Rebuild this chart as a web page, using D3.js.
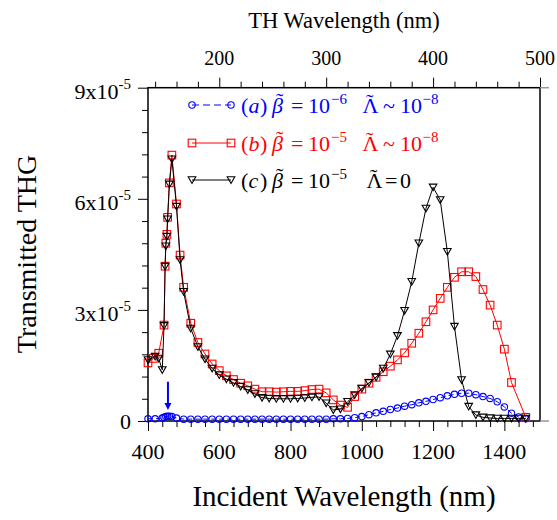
<!DOCTYPE html>
<html>
<head>
<meta charset="utf-8">
<script src="https://cdn.jsdelivr.net/npm/d3@7"></script>
<style>
  body { margin: 0; background: #fff; }
  svg { display: block; font-family: "Liberation Serif", "Times New Roman", serif; }
</style>
</head>
<body>
<svg id="chart" width="557" height="520"></svg>
<script>
// values in units of 1e-5
const wlA = [400, 420, 440, 445, 450, 455, 460, 467, 480,
  500, 520, 540, 560, 580, 600, 620, 640, 660, 680, 700, 720, 740, 760, 780, 800, 820, 840, 860, 880,
  900, 920, 940, 960, 980, 1000, 1020, 1040, 1060, 1080, 1100, 1120, 1140, 1160, 1180, 1200, 1220, 1240,
  1260, 1280, 1300, 1320, 1340, 1360, 1380, 1400, 1420, 1440, 1460];
const valA = [0.06, 0.06, 0.08, 0.1, 0.12, 0.13, 0.13, 0.12, 0.08,
  0.05, 0.05, 0.05, 0.05, 0.05, 0.05, 0.05, 0.05, 0.05, 0.05, 0.05, 0.05, 0.05, 0.05, 0.05, 0.05, 0.05, 0.05, 0.05, 0.05,
  0.05, 0.06, 0.06, 0.07, 0.09, 0.12, 0.17, 0.22, 0.26, 0.31, 0.35, 0.4, 0.44, 0.49, 0.53, 0.58, 0.63, 0.68,
  0.72, 0.75, 0.75, 0.71, 0.66, 0.61, 0.52, 0.38, 0.21, 0.11, 0.06];

const wlB = [400, 415, 430, 445, 448, 450, 453, 455, 460, 467, 480, 490, 500,
  520, 540, 560, 580, 600, 620, 640, 660, 680, 700,
  720, 740, 760, 780, 800, 820, 840, 860, 880,
  900, 920, 940, 960, 980, 1000, 1020, 1040, 1060, 1080, 1100, 1120, 1140, 1160, 1180, 1200,
  1220, 1240, 1260, 1280, 1300, 1320, 1340, 1360, 1380, 1400, 1420, 1460];
const valB = [1.57, 1.69, 1.83, 2.59, 4.18, 4.8, 5.04, 5.5, 6.43, 7.18, 5.86, 4.48, 3.61,
  2.64, 2.12, 1.81, 1.54, 1.36, 1.22, 1.12, 1.02, 0.95, 0.86,
  0.79, 0.79, 0.78, 0.79, 0.8, 0.8, 0.82, 0.85, 0.86,
  0.76, 0.57, 0.43, 0.37, 0.66, 0.86, 1.02, 1.18, 1.33, 1.48, 1.65, 1.84, 2.1, 2.37, 2.68, 3.0,
  3.31, 3.61, 3.88, 4.03, 4.03, 3.9, 3.55, 3.13, 2.59, 1.94, 1.04, 0.1];

const wlC = [400, 420, 430, 440, 445, 448, 450, 453, 455, 460, 467, 480, 490, 500,
  520, 540, 560, 580, 600, 620, 640, 660, 680, 700,
  720, 740, 760, 780, 800, 820, 840, 860, 880,
  900, 920, 940, 960, 980, 1000, 1020, 1040, 1060, 1080, 1100, 1120, 1140, 1160, 1180, 1200,
  1220, 1240, 1260, 1280, 1300, 1320, 1340, 1360, 1380, 1400, 1420, 1440, 1460];
const valC = [1.65, 1.74, 1.69, 1.38, 2.57, 4.17, 4.72, 4.98, 5.45, 6.39, 7.07, 5.79, 4.35, 3.49,
  2.5, 2.0, 1.67, 1.42, 1.24, 1.13, 1.03, 0.93, 0.84, 0.73,
  0.63, 0.61, 0.6, 0.6, 0.6, 0.61, 0.62, 0.64, 0.65,
  0.48, 0.3, 0.32, 0.52, 0.7, 0.88, 1.03, 1.18, 1.42, 1.8, 2.3, 2.98, 3.76, 4.8, 5.74, 6.31,
  5.97, 4.57, 2.55, 1.11, 0.39, 0.16, 0.1, 0.08, 0.07, 0.07, 0.07, 0.07, 0.07];

const xTicks = [400, 600, 800, 1000, 1200, 1400];
const topTicks = [200, 300, 400, 500];
const yTicks = [0, 3, 6, 9];
const yTickLabels = ["0", "3x10", "6x10", "9x10"];

// arrow marking the pump wavelength (nm, from value, to value)
const arrowWl = 456, arrowFrom = 1.06, arrowTo = 0.3;

const svg = d3.select("#chart");

const x = d3.scaleLinear().domain([400, 1500]).range([148, 540]);
const xTop = d3.scaleLinear().domain([400 / 3, 500]).range([148, 540]);
const y = d3.scaleLinear().domain([0, 9]).range([421, 87.7]);

// ticks
function tickAxis(axis, transform) {
    const g = svg.append("g").attr("transform", transform).call(axis);
    g.select(".domain").remove();
    g.selectAll("line").attr("stroke", "#000").attr("stroke-width", 1);
    return g;
}

const xMinor = d3.range(440, 1500, 40).filter(d => d % 200 !== 0);
tickAxis(d3.axisBottom(x).tickValues(xTicks).tickSize(10).tickFormat(""), "translate(0,421)");
tickAxis(d3.axisBottom(x).tickValues(xMinor).tickSize(6).tickFormat(""), "translate(0,421)");

const topMinor = d3.range(140, 500, 20).filter(d => d % 100 !== 0);
tickAxis(d3.axisTop(xTop).tickValues(topTicks).tickSize(10).tickFormat(""), "translate(0,87.7)");
tickAxis(d3.axisTop(xTop).tickValues(topMinor).tickSize(6).tickFormat(""), "translate(0,87.7)");

const yMinor = d3.range(0.6, 9, 0.6).filter(d => Math.abs(d / 3 - Math.round(d / 3)) > 0.01);
tickAxis(d3.axisLeft(y).tickValues(yTicks).tickSize(10).tickFormat(""), "translate(148,0)");
tickAxis(d3.axisLeft(y).tickValues(yMinor).tickSize(6).tickFormat(""), "translate(148,0)");

// frame
svg.append("rect")
    .attr("x", 148).attr("y", 87.7)
    .attr("width", 392).attr("height", 421 - 87.7)
    .attr("fill", "none").attr("stroke", "#000").attr("stroke-width", 1.5);
svg.append("line").attr("x1", 540).attr("x2", 549).attr("y1", 87.7).attr("y2", 87.7)
    .attr("stroke", "#999").attr("stroke-width", 1.5);
svg.append("line").attr("x1", 540).attr("x2", 549).attr("y1", 421).attr("y2", 421)
    .attr("stroke", "#999").attr("stroke-width", 1.5);

// tick labels
svg.append("g").selectAll("text").data(xTicks).enter().append("text")
    .attr("x", d => x(d)).attr("y", 459)
    .attr("text-anchor", "middle").attr("font-size", 22)
    .text(d => d);

svg.append("g").selectAll("text").data(topTicks).enter().append("text")
    .attr("x", d => xTop(d)).attr("y", 65)
    .attr("text-anchor", "middle").attr("font-size", 20)
    .text(d => d);

const yLab = svg.append("g").selectAll("text").data(yTicks).enter().append("text")
    .attr("x", 131)
    .attr("y", d => y(d) + (d === 0 ? 7.5 : 11))
    .attr("text-anchor", "end").attr("font-size", 22);
yLab.append("tspan").text((d, i) => yTickLabels[i]);
yLab.filter(d => d !== 0).append("tspan")
    .attr("dy", -10).attr("font-size", 15).text("-5");

// axis titles
svg.append("text").attr("x", 344).attr("y", 506)
    .attr("text-anchor", "middle").attr("font-size", 29)
    .text("Incident Wavelength (nm)");
svg.append("text").attr("x", 344).attr("y", 28)
    .attr("text-anchor", "middle").attr("font-size", 22.5)
    .text("TH Wavelength (nm)");
svg.append("text")
    .attr("transform", "translate(36,254) rotate(-90)")
    .attr("text-anchor", "middle").attr("font-size", 28)
    .text("Transmitted THG");

// series
const line = d3.line().x(d => x(d[0])).y(d => y(d[1]));
const triPath = "M-3.8,-3.2L3.8,-3.2L0,3.4Z";

function drawSeries(wl, val, color, shape, dash) {
    const pts = wl.map((w, i) => [w, val[i]]);
    const g = svg.append("g");
    g.append("path").datum(pts).attr("d", line)
        .attr("fill", "none").attr("stroke", color).attr("stroke-width", 1)
        .attr("stroke-dasharray", dash || null);
    const m = g.selectAll("g.pt").data(pts).enter().append("g")
        .attr("transform", d => `translate(${x(d[0])},${y(d[1])})`);
    addMarker(m, color, shape);
}

function addMarker(sel, color, shape) {
    if (shape === "circle") {
        sel.append("circle").attr("r", 3.2)
            .attr("fill", "none").attr("stroke", color).attr("stroke-width", 1.1);
    } else if (shape === "square") {
        sel.append("rect").attr("x", -3.8).attr("y", -3.8).attr("width", 7.6).attr("height", 7.6)
            .attr("fill", "none").attr("stroke", color).attr("stroke-width", 1.1);
    } else {
        sel.append("path").attr("d", triPath)
            .attr("fill", "none").attr("stroke", color).attr("stroke-width", 1.1);
    }
}

drawSeries(wlA, valA, "#0000ff", "circle", "5,3");
drawSeries(wlB, valB, "#ff0000", "square");
drawSeries(wlC, valC, "#000000", "triangle");

// arrow
const ax = x(arrowWl);
svg.append("line").attr("x1", ax).attr("x2", ax)
    .attr("y1", y(arrowFrom)).attr("y2", y(arrowTo) - 4)
    .attr("stroke", "#0000ff").attr("stroke-width", 2);
svg.append("path")
    .attr("d", `M${ax - 3.5},${y(arrowTo) - 7}L${ax + 3.5},${y(arrowTo) - 7}L${ax},${y(arrowTo)}Z`)
    .attr("fill", "#0000ff");

// legend
const legendRows = [
    { label: "(a)", color: "#0000ff", shape: "circle", dash: "7,4", beta: "\u22126", lam: "~", lamVal: "10", lamExp: "\u22128" },
    { label: "(b)", color: "#ff0000", shape: "square", dash: null, beta: "\u22125", lam: "~", lamVal: "10", lamExp: "\u22128" },
    { label: "(c)", color: "#000000", shape: "triangle", dash: null, beta: "\u22125", lam: "=", lamVal: "0", lamExp: "" }
];
const legendY = [105, 143, 180];

legendRows.forEach((r, i) => {
    const cy = legendY[i];
    const base = cy + 8;
    const g = svg.append("g").attr("fill", r.color);
    g.append("line").attr("x1", 192).attr("x2", 231).attr("y1", cy).attr("y2", cy)
        .attr("stroke", r.color).attr("stroke-width", 1).attr("stroke-dasharray", r.dash);
    [192, 231].forEach(px => {
        const m = g.append("g").attr("transform", `translate(${px},${cy})`);
        addMarker(m, r.color, r.shape);
    });
    const t = (s, px, opts = {}) => g.append("text")
        .attr("x", px).attr("y", base + (opts.dy || 0))
        .attr("font-size", opts.size || 22)
        .attr("font-style", opts.italic ? "italic" : null)
        .text(s);
    t("(", 241);
    t(r.label[1], 248.5, { italic: true });
    t(")", 260);
    t("\u03b2", 272, { italic: true });
    t("\u02dc", 276, { dy: -5 });
    t("=", 291);
    t("10", 308);
    t(r.beta, 331, { size: 15, dy: -9 });
    const lx = i === 2 ? 366.5 : 362.5;
    t("\u039b", lx);
    t("\u02dc", lx + 3.5, { dy: -4 });
    if (r.lam === "~") {
        t("~", 383);
        t(r.lamVal, 400);
        t(r.lamExp, 422.5, { size: 15, dy: -9 });
    } else {
        t("=", 385);
        t(r.lamVal, 400);
    }
});
</script>
</body>
</html>
